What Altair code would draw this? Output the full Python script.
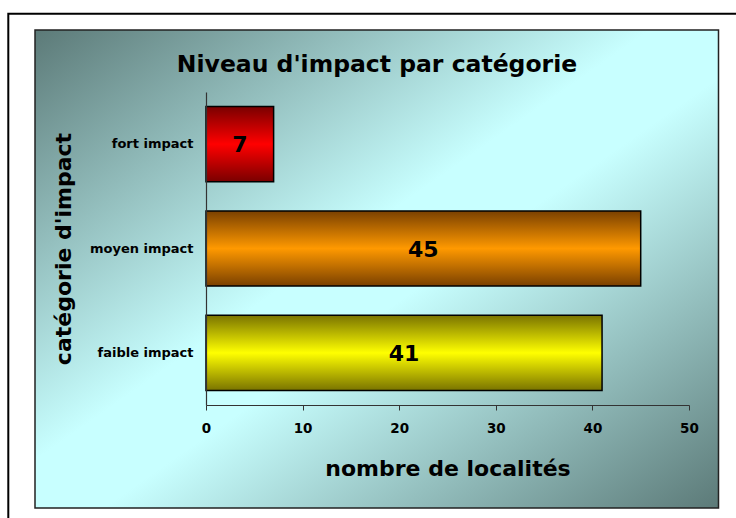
import altair as alt
import pandas as pd

# Impact level per category
categories = ["fort impact", "moyen impact", "faible impact"]
counts = [7, 45, 41]

FONT = "DejaVu Sans"

df = pd.DataFrame({"categorie": categories, "nombre": counts})


def shaded(dark, bright):
    """Vertical gradient: dark edges, bright middle."""
    return alt.Gradient(
        gradient="linear",
        stops=[
            alt.GradientStop(color=dark, offset=0),
            alt.GradientStop(color=bright, offset=0.5),
            alt.GradientStop(color=dark, offset=1),
        ],
        x1=0, x2=0, y1=0, y2=1,
    )


bar_fills = {
    "fort impact": shaded("#7a0000", "#ff0000"),
    "moyen impact": shaded("#7a4000", "#ff9900"),
    "faible impact": shaded("#7a7400", "#ffff00"),
}

W, H = 483, 313
PAD_L, PAD_T = 206, 92

y_enc = alt.Y(
    "categorie:N",
    sort=categories,
    scale=alt.Scale(paddingInner=0.28, paddingOuter=0.14),
    axis=alt.Axis(
        title="catégorie d'impact",
        titleFont=FONT, titleFontSize=22, titleFontWeight="bold", titleColor="black",
        titleX=70 - PAD_L, titleY=H / 2, titleAngle=270,
        titleAlign="center", titleBaseline="alphabetic",
        labelFont=FONT, labelFontSize=13, labelFontWeight="bold", labelColor="black",
        labelPadding=13, ticks=False, domainColor="#333333", domainWidth=1.2,
        zindex=1,
    ),
)

x_enc = alt.X(
    "nombre:Q",
    scale=alt.Scale(domain=[0, 50], nice=False),
    axis=alt.Axis(
        title="nombre de localités",
        titleFont=FONT, titleFontSize=22, titleFontWeight="bold", titleColor="black",
        titleX=W / 2, titleY=475 - (PAD_T + H), titleBaseline="alphabetic",
        values=[0, 10, 20, 30, 40, 50],
        labelFont=FONT, labelFontSize=13.5, labelFontWeight="bold", labelColor="black",
        labelPadding=11, labelFlush=False, tickSize=5, tickColor="#333333",
        domainColor="#333333", domainWidth=1.2, grid=False, zindex=1,
    ),
)

one = alt.Data(values=[{}])

# white sheet with black frame
frame = alt.Chart(one).mark_rect(fill="transparent", stroke="black", strokeWidth=2).encode(
    x=alt.value(8.3 - PAD_L), x2=alt.value(760 - PAD_L),
    y=alt.value(13.7 - PAD_T), y2=alt.value(540 - PAD_T),
)

# chart panel with diagonal gradient
panel_fill = alt.Gradient(
    gradient="linear",
    stops=[
        alt.GradientStop(color="#5c7a78", offset=0),
        alt.GradientStop(color="#c8ffff", offset=0.45),
        alt.GradientStop(color="#c8ffff", offset=0.55),
        alt.GradientStop(color="#5c7a78", offset=1),
    ],
    x1=0, y1=0, x2=1, y2=1,
)
panel = alt.Chart(one).mark_rect(fill=panel_fill, stroke="#222222", strokeWidth=1.5).encode(
    x=alt.value(35 - PAD_L), x2=alt.value(718.5 - PAD_L),
    y=alt.value(30 - PAD_T), y2=alt.value(508 - PAD_T),
)

base = alt.Chart(df)

bars = [
    base.transform_filter(alt.datum.categorie == cat)
    .mark_bar(color=bar_fills[cat], stroke="black", strokeWidth=1.5)
    .encode(x=x_enc, y=y_enc)
    for cat in categories
]

labels = base.transform_calculate(mid="datum.nombre / 2").mark_text(
    font=FONT, fontSize=22, fontWeight="bold", color="black", baseline="middle", dy=1
).encode(
    x=alt.X("mid:Q"),
    y=alt.Y("categorie:N", sort=categories),
    text=alt.Text("nombre:Q"),
)

# the title offset is measured from the top of the frame layer
chart = alt.layer(frame, panel, *bars, labels).properties(
    width=W,
    height=H,
    autosize=alt.AutoSizeParams(type="none"),
    padding={"left": PAD_L, "top": PAD_T, "right": 736 - PAD_L - W, "bottom": 518 - PAD_T - H},
    title=alt.TitleParams(
        text="Niveau d'impact par catégorie",
        font=FONT, fontSize=23.5, fontWeight="bold", color="black",
        anchor="middle", dx=377 - (PAD_L + W / 2), baseline="alphabetic", offset=-83,
    ),
).configure_view(strokeWidth=0).configure(background="white")

chart.save("out.html", embed_options={"renderer": "svg", "actions": False})
